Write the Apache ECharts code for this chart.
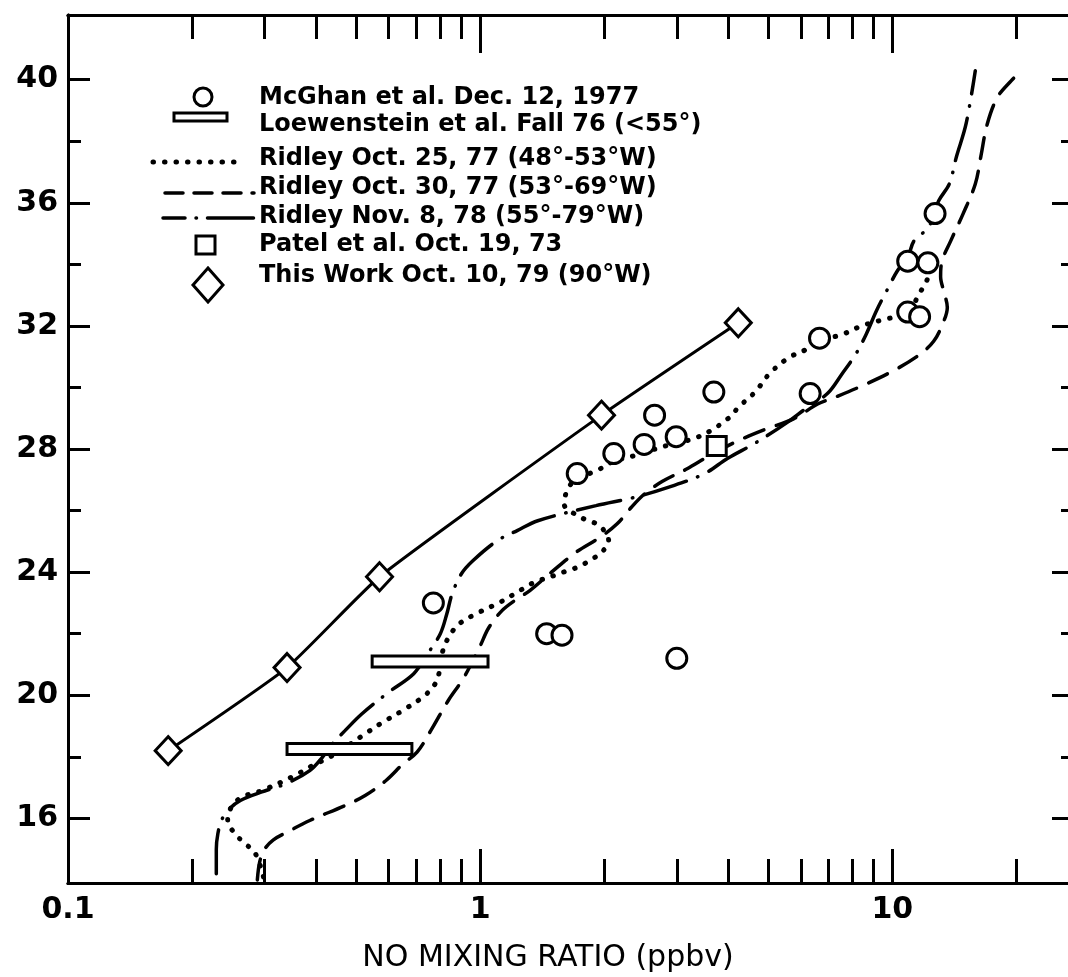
<!DOCTYPE html>
<html>
<head>
<meta charset="utf-8">
<script src="https://cdn.jsdelivr.net/npm/echarts@6/dist/echarts.min.js"></script>
<style>
  html, body { margin: 0; padding: 0; background: #fff; }
  #main { width: 1068px; height: 977px; }
</style>
</head>
<body>
<div id="main"></div>
<script>
// NO mixing ratio (ppbv) vs altitude (km)
var mcghan = [
  [0.77, 23.0], [1.45, 22.0], [1.58, 21.95], [3.0, 21.2],
  [1.72, 27.2], [2.11, 27.85], [2.5, 28.15], [2.99, 28.4], [2.65, 29.1],
  [3.69, 29.85], [6.32, 29.8], [6.66, 31.6],
  [10.9, 32.45], [11.65, 32.3], [10.9, 34.1], [12.2, 34.05], [12.7, 35.65]
];
// [from, to, altitude]
var loewenstein = [[0.547, 1.045, 21.1], [0.34, 0.683, 18.25]];
var ridleyOct25 = [
  [0.298, 14.1], [0.285, 14.85], [0.268, 15.2], [0.254, 15.5], [0.244, 15.95],
  [0.25, 16.4], [0.265, 16.7], [0.295, 16.9], [0.35, 17.35], [0.39, 17.7],
  [0.43, 17.98], [0.47, 18.3], [0.52, 18.7], [0.58, 19.12], [0.657, 19.55],
  [0.735, 20.0], [0.78, 20.4], [0.8, 20.9], [0.81, 21.4], [0.84, 21.9],
  [0.89, 22.32], [0.976, 22.64], [1.117, 23.02], [1.267, 23.45], [1.355, 23.67],
  [1.52, 23.9], [1.63, 24.05], [1.74, 24.18], [1.84, 24.37], [1.97, 24.64],
  [2.05, 25.02], [1.95, 25.51], [1.83, 25.67], [1.72, 25.84], [1.6, 26.2],
  [1.62, 26.6], [1.7, 27.0], [1.92, 27.3], [2.11, 27.6], [2.32, 27.75],
  [2.5, 27.9], [2.66, 28.0], [2.99, 28.2], [3.29, 28.33], [3.69, 28.65],
  [3.88, 28.87], [4.07, 29.08], [4.23, 29.35], [4.66, 29.87], [5.03, 30.44],
  [5.6, 30.96], [6.22, 31.25], [6.66, 31.5], [7.62, 31.74], [8.47, 32.01],
  [9.7, 32.23], [10.9, 32.4], [11.55, 32.98], [12.24, 33.63], [12.3, 34.0]
];
var ridleyOct30 = [
  [0.288, 14.0], [0.292, 14.6], [0.3, 15.0], [0.315, 15.3], [0.34, 15.55],
  [0.386, 15.93], [0.469, 16.41], [0.526, 16.74], [0.591, 17.23], [0.65, 17.77],
  [0.703, 18.15], [0.759, 18.85], [0.837, 19.83], [0.904, 20.48], [0.95, 21.0],
  [1.0, 21.6], [1.05, 22.2], [1.13, 22.75], [1.22, 23.1], [1.32, 23.4],
  [1.49, 24.0], [1.706, 24.64], [1.953, 25.13], [2.15, 25.57], [2.325, 26.1],
  [2.51, 26.55], [2.77, 26.95], [3.17, 27.35], [3.62, 27.8], [4.23, 28.27],
  [4.94, 28.65], [5.76, 28.98], [6.59, 29.46], [7.26, 29.68], [8.47, 30.06],
  [9.89, 30.49], [11.55, 31.03], [12.6, 31.5], [13.3, 32.12], [13.6, 32.6],
  [13.35, 33.1], [13.1, 33.6], [13.2, 34.1], [13.87, 34.77], [14.85, 35.64],
  [15.9, 36.61], [16.4, 37.5], [17.0, 38.56], [18.0, 39.43], [19.45, 39.97],
  [20.6, 40.29]
];
var ridleyNov8 = [
  [0.229, 14.2], [0.229, 15.0], [0.231, 15.5], [0.236, 15.95], [0.246, 16.3],
  [0.262, 16.58], [0.294, 16.85], [0.337, 17.12], [0.386, 17.55], [0.415, 18.0],
  [0.44, 18.45], [0.47, 18.85], [0.516, 19.39], [0.6, 20.1], [0.69, 20.7],
  [0.745, 21.34], [0.8, 21.99], [0.83, 22.64], [0.855, 23.29], [0.9, 23.94],
  [0.96, 24.37], [1.1, 25.02], [1.23, 25.35], [1.38, 25.67], [1.91, 26.16],
  [2.37, 26.43], [2.87, 26.76], [3.49, 27.19], [3.99, 27.7], [4.66, 28.2],
  [5.54, 28.85], [6.22, 29.35], [6.97, 29.81], [7.55, 30.44], [8.16, 31.09],
  [8.65, 31.74], [9.16, 32.5], [9.7, 33.15], [10.3, 33.8], [10.9, 34.23],
  [11.3, 34.77], [12.24, 35.2], [12.97, 36.07], [13.75, 36.61], [14.3, 37.48],
  [15.1, 38.56], [15.9, 40.29]
];
var patel = [[3.75, 28.1]];
var thisWork = [[0.175, 18.2], [0.34, 20.9], [0.57, 23.85], [1.97, 29.1], [4.23, 32.1]];

var xLabels = [0.1, 1, 10];
var xMajorTicks = [1, 10];
var xMinorTicks = [0.2, 0.3, 0.4, 0.5, 0.6, 0.7, 0.8, 0.9, 2, 3, 4, 5, 6, 7, 8, 9, 20];
var yMajorTicks = [16, 20, 24, 28, 32, 36, 40];
var yMinorTicks = [18, 22, 26, 30, 34, 38];

var legendNames = [
  'McGhan et al. Dec. 12, 1977',
  'Loewenstein et al. Fall 76 (<55°)',
  'Ridley Oct. 25, 77 (48°-53°W)',
  'Ridley Oct. 30, 77 (53°-69°W)',
  'Ridley Nov. 8, 78 (55°-79°W)',
  'Patel et al. Oct. 19, 73',
  'This Work Oct. 10, 79 (90°W)'
];

var FONT = 'DejaVu Sans';
var DOTTED = [0.5, 11];
var DASHED = [21, 13];
var DASHDOT = [44, 12, 0.5, 12];

function xAxis(pos, ticks, len, withLabels) {
  var ax = {
    type: 'log', logBase: 10, min: 0.1, max: 27.6, position: pos,
    axisLine: { show: true, lineStyle: { color: '#000', width: 3 } },
    axisTick: { show: true, inside: true, length: len, customValues: ticks,
                lineStyle: { color: '#000', width: 3 } },
    axisLabel: { show: false },
    splitLine: { show: false }
  };
  if (withLabels) {
    ax.axisLabel = {
      show: true, customValues: xLabels, margin: 12, color: '#000',
      fontFamily: FONT, fontSize: 30, fontWeight: 'bold',
      formatter: function (v) { return v < 0.5 ? '0.1' : String(Math.round(v)); }
    };
    ax.name = 'NO MIXING RATIO (ppbv)';
    ax.nameLocation = 'middle';
    ax.nameGap = 60;
    ax.nameTextStyle = { color: '#000', fontFamily: FONT, fontSize: 30, padding: [0, 46, 0, 0] };
  }
  return ax;
}

function yAxis(pos, ticks, len, withLabels) {
  return {
    type: 'value', min: 13.9, max: 42.1, position: pos,
    axisLine: { show: true, lineStyle: { color: '#000', width: 3 } },
    axisTick: { show: true, inside: true, length: len, customValues: ticks,
                lineStyle: { color: '#000', width: 3 } },
    axisLabel: withLabels ? {
      show: true, customValues: yMajorTicks, margin: 10, color: '#000',
      fontFamily: FONT, fontSize: 30, fontWeight: 'bold'
    } : { show: false },
    splitLine: { show: false }
  };
}

function curve(name, data, dash, width) {
  return {
    name: name, type: 'line', data: data, smooth: 0.35, symbol: 'none',
    lineStyle: { color: '#000', width: width, type: dash, cap: 'round' },
    z: 2
  };
}

// hand-made legend block
var lx = 259;
var legendGraphics = [
  { type: 'circle', shape: { cx: 203, cy: 97, r: 9 }, style: { fill: '#fff', stroke: '#000', lineWidth: 3 } },
  { type: 'rect', shape: { x: 174, y: 113, width: 53, height: 8 }, style: { fill: '#fff', stroke: '#000', lineWidth: 3 } },
  { type: 'line', shape: { x1: 153, y1: 162, x2: 238, y2: 162 }, style: { stroke: '#000', lineWidth: 5, lineDash: DOTTED, lineCap: 'round' } },
  { type: 'line', shape: { x1: 165, y1: 193, x2: 254, y2: 193 }, style: { stroke: '#000', lineWidth: 3.5, lineDash: [18, 11], lineCap: 'round' } },
  { type: 'line', shape: { x1: 163, y1: 218, x2: 255, y2: 218 }, style: { stroke: '#000', lineWidth: 3.5, lineDash: [22, 11, 0.5, 11, 46], lineCap: 'round' } },
  { type: 'rect', shape: { x: 196, y: 236, width: 19, height: 18 }, style: { fill: '#fff', stroke: '#000', lineWidth: 3 } },
  { type: 'polygon', shape: { points: [[208, 268], [223, 285], [208, 302], [193, 285]] }, style: { fill: '#fff', stroke: '#000', lineWidth: 3 } }
];
var rowY = [98, 125, 159, 188, 217, 245, 276];
legendNames.forEach(function (t, i) {
  legendGraphics.push({
    type: 'text', x: lx, y: rowY[i],
    style: { text: t, fill: '#000', font: 'bold 24px "' + FONT + '"', verticalAlign: 'middle', align: 'left' }
  });
});

var chart = echarts.init(document.getElementById('main'));
chart.setOption({
  animation: false,
  backgroundColor: '#fff',
  grid: { left: 68, right: -6, top: 15, bottom: 94, outerBoundsMode: 'none' },
  xAxis: [
    xAxis('bottom', xMajorTicks, 34, true),
    xAxis('bottom', xMinorTicks, 24, false),
    xAxis('top', xMajorTicks, 38, false),
    xAxis('top', xMinorTicks, 24, false)
  ],
  yAxis: [
    yAxis('left', yMajorTicks, 22, true),
    yAxis('left', yMinorTicks, 13, false),
    yAxis('right', yMajorTicks, 22, false),
    yAxis('right', yMinorTicks, 13, false)
  ],
  graphic: legendGraphics,
  series: [
    curve(legendNames[2], ridleyOct25, DOTTED, 5),
    curve(legendNames[3], ridleyOct30, DASHED, 3.5),
    curve(legendNames[4], ridleyNov8, DASHDOT, 3.5),
    {
      name: legendNames[6], type: 'line', data: thisWork, smooth: 0.15,
      symbol: 'diamond', symbolSize: [26, 28],
      lineStyle: { color: '#000', width: 3 },
      itemStyle: { color: '#fff', borderColor: '#000', borderWidth: 3 },
      z: 3
    },
    {
      name: legendNames[1], type: 'custom', data: loewenstein,
      encode: { x: [0, 1], y: 2 },
      renderItem: function (params, api) {
        var a = api.coord([api.value(0), api.value(2)]);
        var b = api.coord([api.value(1), api.value(2)]);
        return {
          type: 'rect',
          shape: { x: a[0], y: a[1] - 5.5, width: b[0] - a[0], height: 11 },
          style: { fill: '#fff', stroke: '#000', lineWidth: 3 }
        };
      },
      z: 4
    },
    {
      name: legendNames[0], type: 'scatter', data: mcghan,
      symbol: 'circle', symbolSize: 20,
      itemStyle: { color: '#fff', borderColor: '#000', borderWidth: 3, opacity: 1 },
      z: 5
    },
    {
      name: legendNames[5], type: 'scatter', data: patel,
      symbol: 'rect', symbolSize: 19,
      itemStyle: { color: '#fff', borderColor: '#000', borderWidth: 3, opacity: 1 },
      z: 5
    }
  ]
});
</script>
</body>
</html>
